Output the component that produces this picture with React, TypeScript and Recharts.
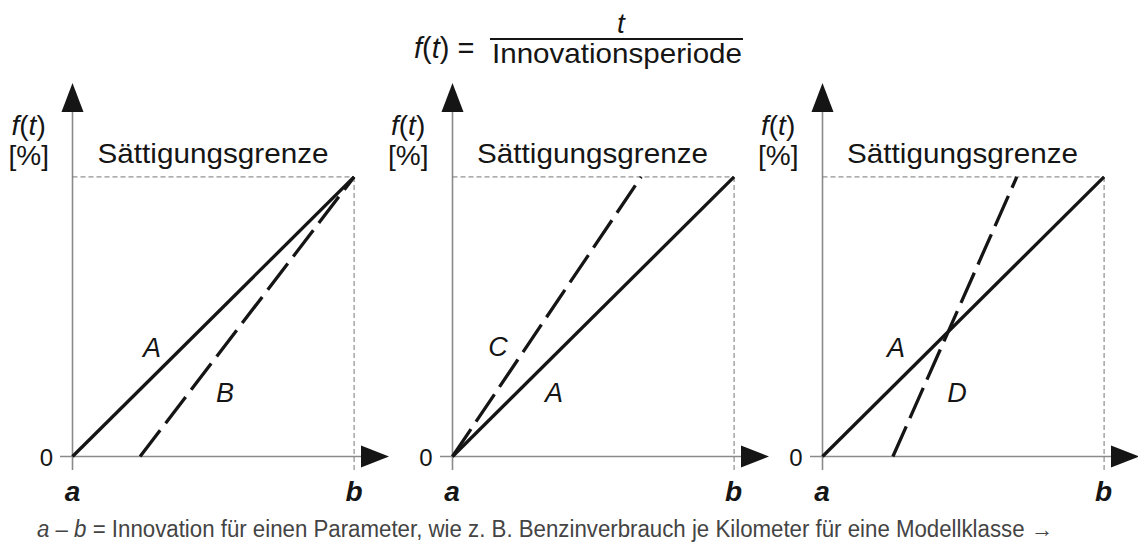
import React from "react";
import { LineChart, Line, XAxis, YAxis, ReferenceLine, ReferenceDot } from "recharts";

// ---- data (t normalised: a = 0, b = 1; f in % of saturation) ----
const SATURATION = 100;
const curveA = [
  { t: 0, f: 0 },
  { t: 1, f: 100 },
];
const curveB = [
  { t: 0.24, f: 0 },
  { t: 1, f: 100 },
];
const curveC = [
  { t: 0, f: 0 },
  { t: 0.67, f: 100 },
];
const curveD = [
  { t: 0.25, f: 0 },
  { t: 0.69, f: 100 },
];
const panelLetters = [
  ["A", "B"],
  ["C", "A"],
  ["A", "D"],
];
const tickLabels = { zero: "0", a: "a", b: "b" };
const titleNumerator = "t";
const titleDenominator = "Innovationsperiode";
const saturationLabel = "Sättigungsgrenze";

// ---- layout ----
const T_MIN = -0.0444;
const T_MAX = 1.124;
const F_MIN = -4.83;
const F_MAX = 133.6;
const FONT = "'Liberation Sans', Arial, Helvetica, sans-serif";
const AXIS_COLOR = "#8a8a8a";
const GUIDE_COLOR = "#777";
const INK = "#151515";

const XArrow = (props: any) => {
  const { cx, cy } = props;
  return <polygon points={`${cx},${cy} ${cx - 28},${cy - 11} ${cx - 28},${cy + 11}`} fill={INK} />;
};
const YArrow = (props: any) => {
  const { cx, cy } = props;
  return <polygon points={`${cx},${cy} ${cx - 11},${cy + 29} ${cx + 11},${cy + 29}`} fill={INK} />;
};

type PanelProps = { solid: any[]; dashed: any[]; left: number };

const Panel = ({ solid, dashed, left }: PanelProps) => (
  <div style={{ position: "absolute", left, top: 0 }}>
    <LineChart width={400} height={545} margin={{ top: 83, bottom: 75, left: 60, right: 11 }}>
      <XAxis type="number" dataKey="t" domain={[T_MIN, T_MAX]} hide allowDataOverflow />
      <YAxis type="number" dataKey="f" domain={[F_MIN, F_MAX]} hide allowDataOverflow />
      {/* axes */}
      <ReferenceLine
        segment={[{ x: T_MIN, y: 0 }, { x: T_MAX - 0.05, y: 0 }]}
        stroke={AXIS_COLOR}
        strokeWidth={1.6}
        ifOverflow="visible"
      />
      <ReferenceLine
        segment={[{ x: 0, y: F_MIN }, { x: 0, y: F_MAX - 5 }]}
        stroke={AXIS_COLOR}
        strokeWidth={1.6}
        ifOverflow="visible"
      />
      {/* saturation guides */}
      <ReferenceLine
        segment={[{ x: 0, y: SATURATION }, { x: 1, y: SATURATION }]}
        stroke={GUIDE_COLOR}
        strokeWidth={1}
        strokeDasharray="5 3"
        ifOverflow="visible"
      />
      <ReferenceLine
        segment={[{ x: 1, y: F_MIN }, { x: 1, y: SATURATION }]}
        stroke={GUIDE_COLOR}
        strokeWidth={1}
        strokeDasharray="5 3"
        ifOverflow="visible"
      />
      <ReferenceDot x={T_MAX} y={0} r={0} shape={XArrow} ifOverflow="visible" />
      <ReferenceDot x={0} y={F_MAX} r={0} shape={YArrow} ifOverflow="visible" />
      <Line
        data={solid}
        dataKey="f"
        type="linear"
        stroke={INK}
        strokeWidth={3.3}
        dot={false}
        activeDot={false}
        isAnimationActive={false}
      />
      <Line
        data={dashed}
        dataKey="f"
        type="linear"
        stroke={INK}
        strokeWidth={3.3}
        strokeDasharray="33 9"
        dot={false}
        activeDot={false}
        isAnimationActive={false}
      />
    </LineChart>
  </div>
);

const origins = [72.5, 452, 822];
const letterPos = [
  [
    [152, 357],
    [225, 402],
  ],
  [
    [498, 356],
    [554, 402],
  ],
  [
    [896, 357],
    [957, 402],
  ],
];

const Overlay = () => (
  <svg
    width={1138}
    height={545}
    style={{ position: "absolute", left: 0, top: 0, pointerEvents: "none" }}
    fontFamily={FONT}
  >
    {/* title formula */}
    <text x={414} y={58} fontSize={29} fill={INK}>
      <tspan fontStyle="italic">f</tspan>(<tspan fontStyle="italic">t</tspan>) =
    </text>
    <text x={621} y={33} fontSize={28} fontStyle="italic" textAnchor="middle" fill={INK}>
      {titleNumerator}
    </text>
    <line x1={490} x2={743} y1={39} y2={39} stroke={INK} strokeWidth={2.2} />
    <text x={492} y={63} fontSize={28} fill={INK} textLength={250} lengthAdjust="spacingAndGlyphs">
      {titleDenominator}
    </text>

    {origins.map((ox, i) => (
      <g key={i} fill={INK}>
        <text x={ox - 61} y={135} fontSize={28}>
          <tspan fontStyle="italic">f</tspan>(<tspan fontStyle="italic">t</tspan>)
        </text>
        <text x={ox - 64} y={165} fontSize={28}>
          [%]
        </text>
        <text x={ox + 25} y={163} fontSize={28} textLength={231} lengthAdjust="spacingAndGlyphs">
          {saturationLabel}
        </text>
        <text x={ox - 26} y={466} fontSize={24} textAnchor="middle">
          {tickLabels.zero}
        </text>
        <text x={ox} y={501} fontSize={28} fontStyle="italic" fontWeight="bold" textAnchor="middle">
          {tickLabels.a}
        </text>
        <text x={ox + 281.5} y={501} fontSize={28} fontStyle="italic" fontWeight="bold" textAnchor="middle">
          {tickLabels.b}
        </text>
        {panelLetters[i].map((L, j) => (
          <text
            key={j}
            x={letterPos[i][j][0]}
            y={letterPos[i][j][1]}
            fontSize={27}
            fontStyle="italic"
            textAnchor="middle"
          >
            {L}
          </text>
        ))}
      </g>
    ))}

    {/* footer */}
    <text x={37} y={537} fontSize={23} fill="#444" textLength={1016} lengthAdjust="spacingAndGlyphs">
      <tspan fontStyle="italic">a</tspan> – <tspan fontStyle="italic">b</tspan> = Innovation für einen Parameter, wie z. B.
      Benzinverbrauch je Kilometer für eine Modellklasse →
    </text>
  </svg>
);

export default function App() {
  return (
    <div
      style={{
        position: "absolute",
        left: 0,
        top: 0,
        width: 1138,
        height: 545,
        background: "#fff",
        overflow: "hidden",
      }}
    >
      <Panel solid={curveA} dashed={curveB} left={origins[0] - 72.5} />
      <Panel solid={curveA} dashed={curveC} left={origins[1] - 72.5} />
      <Panel solid={curveA} dashed={curveD} left={origins[2] - 72.5} />
      <Overlay />
    </div>
  );
}
